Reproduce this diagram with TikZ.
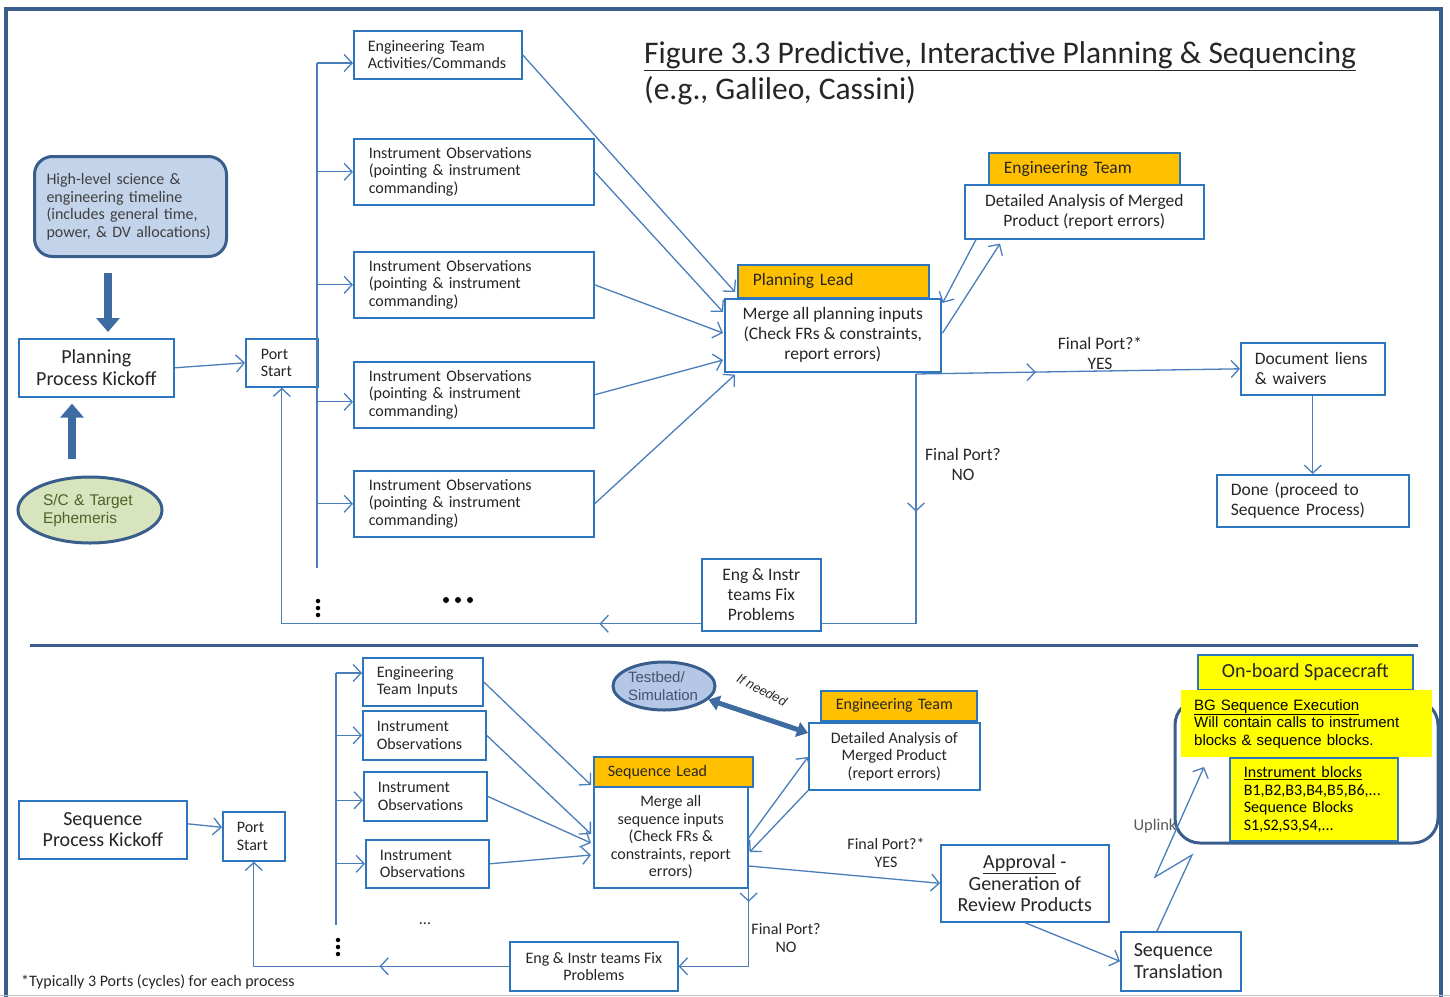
\documentclass[tikz,border=0pt]{standalone}
\usepackage{fontspec}
\setmainfont{Carlito}
\newfontfamily\arialf{Liberation Sans}
\usetikzlibrary{arrows.meta,decorations.markings,shapes.geometric}
\definecolor{boxblue}{HTML}{2E75C0}
\definecolor{lineblue}{HTML}{4A7EBB}
\definecolor{frameblue}{HTML}{3A5E8C}
\definecolor{blkblue}{HTML}{3F6BA3}
\definecolor{hdrorange}{HTML}{FFC000}
\definecolor{hlfill}{HTML}{C3D3EA}
\definecolor{tbfill}{HTML}{B4C7E7}
\definecolor{scfill}{HTML}{D7E4BD}
\definecolor{txt}{HTML}{262626}
\definecolor{hltxt}{HTML}{404040}
\definecolor{sctxt}{HTML}{4F6228}
\definecolor{tbtxt}{HTML}{44546A}
\definecolor{ylw}{HTML}{FFFF00}
\begin{document}
\begin{tikzpicture}[x=1pt,y=-1pt,
  box/.style={draw=boxblue, line width=1.6pt, fill=white, text=txt, inner sep=0pt, anchor=north west},
  hdr/.style={box, fill=hdrorange},
  f14/.style={font=\fontsize{16}{17.5}\selectfont},
  f15/.style={font=\fontsize{17.5}{20}\selectfont},
  f17/.style={font=\fontsize{20}{21.5}\selectfont},
  line/.style={draw, color=lineblue, line width=1.3pt},
  arr/.style={line, -{Straight Barb[length=8pt,width=17pt]}},
  midarr/.style={postaction={decorate}, decoration={markings, mark=at position #1 with {\arrow{Straight Barb[length=8pt,width=17pt]}}}},
  blk/.style={draw, color=blkblue, line width=8pt, -{Triangle[length=14pt,width=23pt]}},
  lbl/.style={text=txt, inner sep=0pt, align=center},
  dot/.style={circle, fill=black, inner sep=0pt, minimum size=#1}
]
\useasboundingbox (0,0) rectangle (1450,996);
% frame
\draw[frameblue, line width=4pt] (6,1000) -- (6,9) -- (1441,9) -- (1441,1000);
\draw[black!25, line width=1pt] (0,995) -- (1450,995);
\draw[frameblue, line width=3pt] (30,645) -- (1418,645);

% title
\node[anchor=west, inner sep=0pt, text=txt, font=\fontsize{31.5}{34}\selectfont] (title) at (644,56) {\underline{Figure 3.3 Predictive, Interactive Planning \& Sequencing}};
\node[anchor=west, inner sep=0pt, text=txt, font=\fontsize{31.5}{34}\selectfont] (subtitle) at (644,91) {(e.g., Galileo, Cassini)};

% ---------------- top section ----------------
\node[draw=frameblue, line width=3pt, fill=hlfill, rounded corners=18pt, anchor=north west, inner sep=0pt,
  minimum width=192pt, minimum height=100pt, text width=168pt, align=left, text=hltxt, f14] (hl) at (33,155)
  {High-level science \&\\engineering timeline\\(includes general time,\\power, \& DV allocations)};
\node[box, minimum width=155pt, minimum height=58pt, align=center, f17] (kick) at (18,338) {Planning\\Process Kickoff};
\node[ellipse, draw=frameblue, line width=3pt, fill=scfill, inner sep=0pt, minimum width=144pt, minimum height=66pt,
  text width=94pt, align=left, text=sctxt, font=\arialf\fontsize{15.5}{18}\selectfont] (sc) at (90,510) {S/C \& Target\\Ephemeris};
\coordinate (c108) at (108,0);
\coordinate (c72) at (72,0);
\draw[blk, shorten <=15pt, shorten >=6pt] (hl.south -| c108) -- (kick.north -| c108);
\draw[blk, shorten <=17pt, shorten >=6pt] (sc.north -| c72) -- (kick.south -| c72);

\node[box, minimum width=72pt, minimum height=48pt, text width=42pt, align=left, f14] (portT) at (245,338) {Port\\Start};
\draw[arr] (kick.east) -- (portT.west);

\node[box, minimum width=168pt, minimum height=48pt, text width=140pt, align=left, f14] (engT) at (353,30) {Engineering Team\\Activities/Commands};
\node[box, minimum width=240pt, minimum height=66pt, text width=210pt, align=left, f14] (io1) at (353,138) {Instrument Observations\\(pointing \& instrument\\commanding)};
\node[box, minimum width=240pt, minimum height=66pt, text width=210pt, align=left, f14] (io2) at (353,251) {Instrument Observations\\(pointing \& instrument\\commanding)};
\node[box, minimum width=240pt, minimum height=66pt, text width=210pt, align=left, f14] (io3) at (353,361) {Instrument Observations\\(pointing \& instrument\\commanding)};
\node[box, minimum width=240pt, minimum height=66pt, text width=210pt, align=left, f14] (io4) at (353,470) {Instrument Observations\\(pointing \& instrument\\commanding)};

\coordinate (trTop) at (317,63);
\coordinate (trBot) at (317,568);
\draw[line] (trTop) -- (trBot);
\draw[arr] (trTop) -- (trTop -| engT.west);
\draw[arr] (io1.west -| trTop) -- (io1.west);
\draw[arr] (io2.west -| trTop) -- (io2.west);
\draw[arr] ([yshift=-7pt]io3.west -| trTop) -- ([yshift=-7pt]io3.west);
\draw[arr] (io4.west -| trTop) -- (io4.west);

\node[hdr, minimum width=191pt, minimum height=33pt, text width=161pt, align=left, f15] (plead) at (737,264) {Planning Lead};
\node[box, minimum width=216pt, minimum height=73pt, align=center, f15] (merge) at (724,298) {Merge all planning inputs\\(Check FRs \& constraints,\\report errors)};

\draw[arr] (engT.east) -- ([xshift=11pt,yshift=6pt]merge.north west);
\draw[arr] (io1.east) -- ([xshift=-1pt,yshift=-14pt]merge.north west);
\draw[arr] (io2.east) -- ([xshift=-1pt,yshift=-35pt]merge.north west);
\draw[arr] (io3.east) -- ([xshift=-1pt,yshift=-62pt]merge.north west);
\draw[arr] (io4.east) -- ([xshift=11pt,yshift=-2pt]merge.south west);

\node[hdr, minimum width=191pt, minimum height=32pt, text width=161pt, align=left, f15] (eteam) at (988,152) {Engineering Team};
\node[box, minimum width=239pt, minimum height=54pt, align=center, f15] (detail) at (964,184) {Detailed Analysis of Merged\\Product (report errors)};
\draw[arr] ([xshift=12pt]detail.south west) -- ([xshift=1pt,yshift=-5pt]merge.north east);
\draw[arr] ([xshift=1pt,yshift=-35pt]merge.north east) -- ([xshift=36pt,yshift=-4pt]detail.south west);

\node[box, minimum width=144pt, minimum height=52pt, text width=116pt, align=left, f15] (doc) at (1240,342) {Document liens\\\& waivers};
\node[box, minimum width=192pt, minimum height=52pt, text width=164pt, align=left, f15] (done) at (1216,474) {Done (proceed to\\Sequence Process)};
\draw[arr] (doc.south) -- (doc.south |- done.north);

\coordinate (split) at (916,374);
\draw[arr, midarr=0.37] (split) -- (doc.west);
\node[lbl, f15] (yesT) at (1100,353) {Final Port?*\\YES};

\node[box, minimum width=119pt, minimum height=72pt, align=center, f15] (fixT) at (701,558) {Eng \& Instr\\teams Fix\\Problems};
\draw[line, midarr=0.4] (split) |- ([yshift=-29pt]fixT.east);
\node[lbl, f15] (noT) at (963,464) {Final Port?\\NO};
\draw[arr, midarr=0.155] ([yshift=-29pt]fixT.west) -| (portT.south);

\node[dot=4.5pt] (vd1) at (318,601) {};
\node[dot=4.5pt] (vd2) at (318,608) {};
\node[dot=4.5pt] (vd3) at (318,615) {};
\node[dot=6pt] (hd1) at (446,600) {};
\node[dot=6pt] (hd2) at (458,600) {};
\node[dot=6pt] (hd3) at (470,600) {};

% ---------------- bottom section ----------------
\node[box, minimum width=168pt, minimum height=58pt, align=center, f17] (kickB) at (18,800) {Sequence\\Process Kickoff};
\node[box, minimum width=62pt, minimum height=49pt, text width=34pt, align=left, f14] (portB) at (222,811) {Port\\Start};
\draw[arr] ([yshift=6pt]kickB.east) -- ([yshift=9pt]portB.west);

\node[box, minimum width=120pt, minimum height=48pt, text width=92pt, align=left, f14] (engB) at (362,657) {Engineering\\Team Inputs};
\node[box, minimum width=123pt, minimum height=49pt, text width=95pt, align=left, f14] (ioB1) at (362,710) {Instrument\\Observations};
\node[box, minimum width=123pt, minimum height=49pt, text width=95pt, align=left, f14] (ioB2) at (363,771) {Instrument\\Observations};
\node[box, minimum width=123pt, minimum height=48pt, text width=95pt, align=left, f14] (ioB3) at (365,839) {Instrument\\Observations};

\coordinate (tbTop) at (336,673);
\coordinate (tbBot) at (336,925);
\draw[line] (tbTop) -- (tbBot);
\draw[arr] (tbTop) -- (tbTop -| engB.west);
\draw[arr] (ioB1.west -| tbTop) -- (ioB1.west);
\draw[arr] ([yshift=-4pt]ioB2.west -| tbTop) -- ([yshift=-4pt]ioB2.west);
\draw[arr] (ioB3.west -| tbTop) -- (ioB3.west);

\node[hdr, minimum width=159pt, minimum height=30pt, text width=131pt, align=left, f14] (slead) at (593,756) {Sequence Lead};
\node[box, minimum width=154pt, minimum height=101pt, align=center, f14] (mergeB) at (593,786) {Merge all\\sequence inputs\\(Check FRs \&\\constraints, report\\errors)};

\draw[arr] (engB.east) -- ([xshift=-2pt,yshift=1pt]mergeB.north west);
\draw[arr] (ioB1.east) -- ([xshift=-2pt,yshift=-48pt]mergeB.north west);
\draw[arr] (ioB2.east) -- ([xshift=-2pt,yshift=-57pt]mergeB.north west);
\draw[arr] (ioB3.east) -- ([xshift=-2pt,yshift=-69pt]mergeB.north west);

\node[ellipse, draw=frameblue, line width=3pt, fill=tbfill, inner sep=0pt, minimum width=102pt, minimum height=48pt,
  text width=72pt, align=left, text=tbtxt, font=\arialf\fontsize{15}{17.5}\selectfont] (testbed) at (664,686) {Testbed/\\Simulation};

\node[hdr, minimum width=156pt, minimum height=30pt, text width=126pt, align=left, f14] (eteamB) at (820,690) {Engineering Team};
\node[box, minimum width=171pt, minimum height=67pt, align=center, f14] (detailB) at (808,722) {Detailed Analysis of\\Merged Product\\(report errors)};

\draw[draw, color=blkblue, line width=5pt, {Triangle[length=11pt,width=15pt]}-{Triangle[length=11pt,width=15pt]}]
  (testbed.-17) -- ([yshift=-11pt]detailB.north west);
\node[inner sep=0pt, rotate=-27, text=txt, font=\arialf\fontsize{13}{15}\selectfont\itshape] (ifneeded) at (762,690) {If needed};

\draw[arr] ([yshift=-52pt]mergeB.north east) -- ([yshift=-35pt]detailB.north west);
\draw[arr] (detailB.south west) -- ([xshift=1pt,yshift=-66pt]mergeB.north east);

\node[box, minimum width=168pt, minimum height=77pt, align=center, f17] (approval) at (940,844) {\underline{Approval} -\\Generation of\\Review Products};
\draw[arr] ([yshift=-80pt]mergeB.north east) -- (approval.west);
\node[lbl, f14] (yesB) at (886,853) {Final Port?*\\YES};

\node[box, minimum width=168pt, minimum height=49pt, align=center, f14] (fixB) at (509,941) {Eng \& Instr teams Fix\\Problems};
\draw[arr, midarr=0.09] (mergeB.south east) |- (fixB.east);
\node[lbl, f14] (noB) at (786,938) {Final Port?\\NO};
\draw[arr, midarr=0.36] (fixB.west) -| (portB.south);

\node[dot=4.5pt] (bvd1) at (338,940) {};
\node[dot=4.5pt] (bvd2) at (338,947) {};
\node[dot=4.5pt] (bvd3) at (338,954) {};
\node[inner sep=0pt, text=txt, font=\fontsize{16}{16}\selectfont] (hdotB) at (425,924) {...};

\node[box, minimum width=120pt, minimum height=59pt, text width=94pt, align=left, f17] (seqtr) at (1120,931) {Sequence\\Translation};
\draw[arr] (approval.south) -- (seqtr.west);

% on-board spacecraft
\draw[frameblue, line width=3pt, rounded corners=25pt] (1175,700) rectangle (1438,843);
\node[box, fill=ylw, minimum width=215pt, minimum height=35pt, align=center, f17] (onboard) at (1197,654) {On-board Spacecraft};
\node[anchor=north west, fill=ylw, inner sep=0pt, minimum width=251pt, minimum height=67pt, text width=225pt, align=left, text=black,
  font=\arialf\fontsize{15}{17.5}\selectfont] (bgexec) at (1181,690) {\underline{BG Sequence Execution}\\Will contain calls to instrument\\blocks \& sequence blocks.};
\node[box, fill=ylw, minimum width=168pt, minimum height=83pt, text width=140pt, align=left, text=black, font=\fontsize{16}{17.5}\selectfont] (blocks) at (1229,757)
  {\underline{Instrument blocks}\\B1,B2,B3,B4,B5,B6,...\\Sequence Blocks\\S1,S2,S3,S4,...};

\coordinate (z1) at (1192,855);
\coordinate (z2) at (1155,877);
\coordinate (z3) at (1204,767);
\draw[arr] ([xshift=37pt]seqtr.north west) -- (z1) -- (z2) -- (z3);
\node[inner sep=0pt, text=black!65, font=\fontsize{16.5}{16.5}\selectfont] (uplink) at (1155,826) {Uplink};

\node[anchor=west, inner sep=0pt, text=txt, font=\fontsize{16}{16}\selectfont] (foot) at (21,982) {*Typically 3 Ports (cycles) for each process};
\end{tikzpicture}
\end{document}
